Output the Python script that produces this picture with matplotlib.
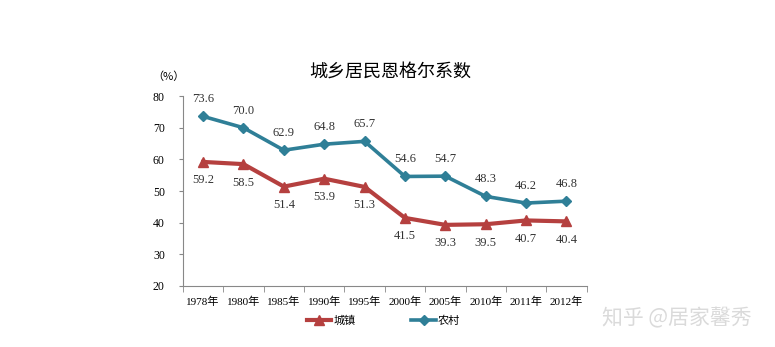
import matplotlib.pyplot as plt

plt.rcParams['font.family'] = ['Liberation Serif', 'Noto Sans CJK SC']

years = ['1978年', '1980年', '1985年', '1990年', '1995年',
         '2000年', '2005年', '2010年', '2011年', '2012年']
urban = [59.2, 58.5, 51.4, 53.9, 51.3, 41.5, 39.3, 39.5, 40.7, 40.4]
rural = [73.6, 70.0, 62.9, 64.8, 65.7, 54.6, 54.7, 48.3, 46.2, 46.8]

red = '#B5403F'
teal = '#2F7F97'

fig = plt.figure(figsize=(7.75, 3.47), dpi=100)
ax = fig.add_axes([0.236, 0.176, 0.521, 0.547])

x = range(len(years))
ax.plot(x, urban, color=red, lw=3, marker='^', ms=7, label='城镇')
ax.plot(x, rural, color=teal, lw=2.6, marker='D', ms=5, label='农村')

for i, v in enumerate(rural):
    ax.annotate(f'{v:.1f}', (i, v), xytext=(0, 8), textcoords='offset points',
                ha='center', va='bottom', fontsize=9, color='#333333')
for i, v in enumerate(urban):
    ax.annotate(f'{v:.1f}', (i, v), xytext=(0, -9), textcoords='offset points',
                ha='center', va='top', fontsize=9, color='#333333')

ax.set_xlim(-0.5, len(years) - 0.5)
ax.set_ylim(20, 80)
ax.set_yticks(range(20, 81, 10))
ax.set_xticks(x)
ax.set_xticklabels(years, fontsize=8)
ax.set_xticks([i + 0.5 for i in range(-1, len(years))], minor=True)
ax.tick_params(axis='x', which='major', length=0, pad=8)
ax.tick_params(axis='x', which='minor', length=4, color='#888888')
ax.tick_params(axis='y', labelsize=8.5, length=3, color='#888888', pad=10)

for s in ['top', 'right']:
    ax.spines[s].set_visible(False)
for s in ['left', 'bottom']:
    ax.spines[s].set_color('#888888')

fig.text(0.503, 0.79, '城乡居民恩格尔系数', ha='center', va='center',
         fontsize=13, family=['Noto Sans CJK SC'])
fig.text(0.218, 0.778, '（%）', ha='center', va='center', fontsize=8,
         family=['Noto Sans CJK SC'])

fig.legend(loc='center', bbox_to_anchor=(0.495, 0.075), ncol=2, frameon=False,
           fontsize=8, handlelength=2.2, columnspacing=5, handletextpad=0.2)

fig.text(0.873, 0.083, '知乎 @居家馨秀', ha='center', va='center', fontsize=15,
         color='#DADADA', family=['Noto Sans CJK SC'])

fig.savefig('out.png', dpi=100)
